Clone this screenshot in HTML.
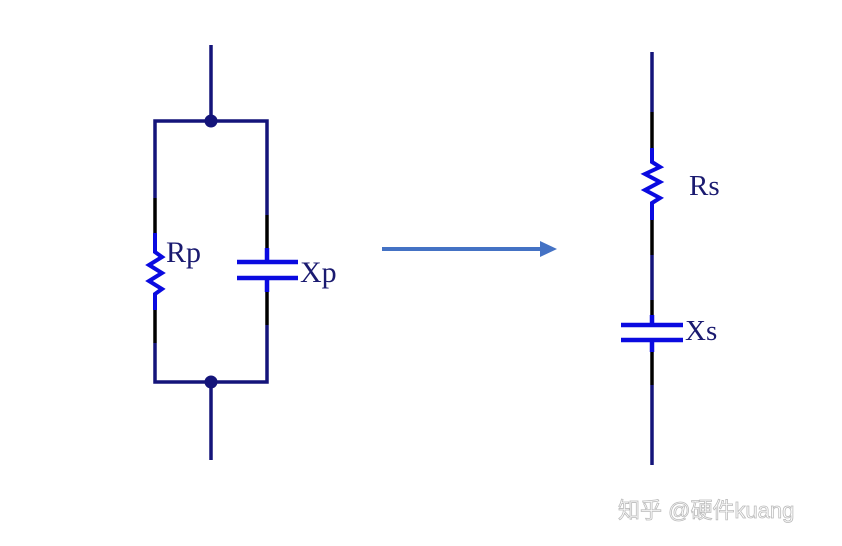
<!DOCTYPE html>
<html><head><meta charset="utf-8"><style>
html,body{margin:0;padding:0;background:#fff;}
svg{display:block;}
text{font-family:"Liberation Serif",serif;fill:#1a1a70;}
</style></head><body>
<svg width="842" height="546" viewBox="0 0 842 546" xmlns="http://www.w3.org/2000/svg">
<g fill="none" stroke-width="3.5">
<path d="M211 45V121M155 198V121H267V215M155 343V382H267V325M211 382V460" stroke="#14147a"/>
<circle cx="211" cy="121" r="6.5" fill="#14147a" stroke="none"/>
<circle cx="211" cy="382" r="6.5" fill="#14147a" stroke="none"/>
<path d="M155 198V233M155 310V343M267 215V248M267 292V325" stroke="#000"/>
<path d="M155 233V252L162 257L149 265L162 273L149 281L162 289L155 294V310" stroke="#0a0ae0" stroke-width="4"/>
<path d="M267 248V262M237 262H298M237 278H298M267 278V292" stroke="#0a0ae0" stroke-width="4.5"/>
<path d="M382 249H542" stroke="#4472c4" stroke-width="4"/>
<polygon points="540,241 557,249 540,257" fill="#4472c4" stroke="none"/>
<path d="M652 52V112M652 255V300M652 385V465" stroke="#14147a"/>
<path d="M652 112V148M652 220V255M652 300V315M652 352V385" stroke="#000"/>
<path d="M652 148V162L660 167L645 174L660 182L645 190L660 198L652 203V220" stroke="#0a0ae0" stroke-width="4"/>
<path d="M652 315V325M621 325H683M621 340H683M652 340V352" stroke="#0a0ae0" stroke-width="4.5"/>
</g>
<text x="166" y="262" font-size="30">Rp</text>
<text x="300" y="282" font-size="30">Xp</text>
<text x="689" y="195" font-size="29">Rs</text>
<text x="685" y="340" font-size="29">Xs</text>
<text x="618" y="518" font-size="22" style="font-family:'Liberation Sans','Noto Sans CJK SC',sans-serif;fill:#fff;stroke:#bbb;stroke-width:0.8">知乎 @硬件kuang</text>
</svg>
</body></html>
